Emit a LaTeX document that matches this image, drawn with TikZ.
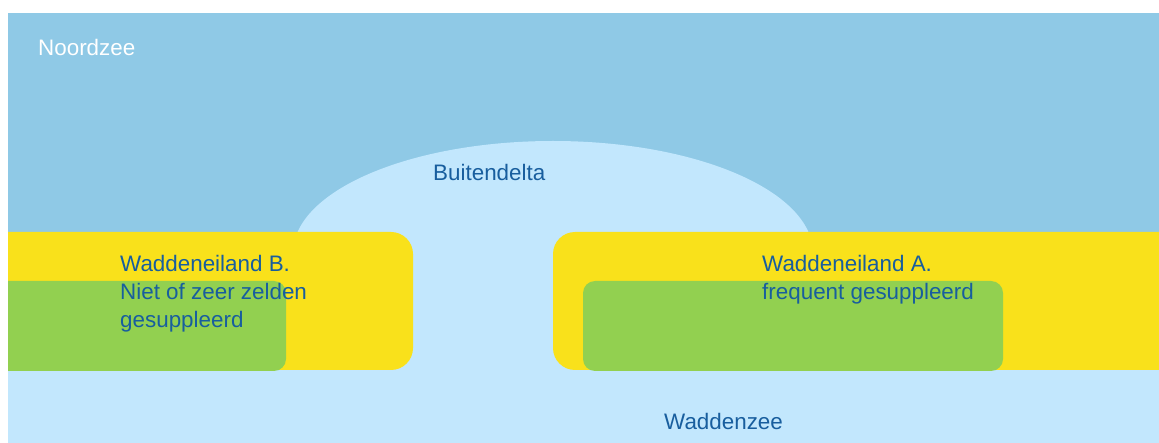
\documentclass[tikz,border=0pt]{standalone}
\usepackage{fontspec}
\setmainfont{Liberation Sans}
\definecolor{northsea}{RGB}{143,201,230}
\definecolor{shallow}{RGB}{194,231,253}
\definecolor{sand}{RGB}{249,225,27}
\definecolor{grass}{RGB}{146,208,80}
\definecolor{labelblue}{RGB}{24,94,158}
\begin{document}
\begin{tikzpicture}[x=1pt,y=-1pt,
  lbl/.style={anchor=base west,inner sep=0pt,text=labelblue,
    font=\fontsize{22.4}{28}\selectfont,align=left},
  sealbl/.style={lbl,text=white}]
\useasboundingbox (0,0) rectangle (1159,443);
\fill[white] (0,0) rectangle (1159,443);
\begin{scope}
  \clip (8,13) rectangle (1159,443);
  % North Sea
  \fill[northsea] (8,13) rectangle (1159,443);
  % ebb-tidal delta and Wadden Sea
  \fill[shallow] (553,253) ellipse [x radius=260, y radius=112];
  \fill[shallow] (8,232) rectangle (1159,443);
  % island B
  \fill[sand,rounded corners=22] (-40,232) rectangle (413,370);
  \fill[grass,rounded corners=12] (-40,281) rectangle (286,371);
  % island A
  \fill[sand,rounded corners=22] (553,232) rectangle (1200,370);
  \fill[grass,rounded corners=12] (583,281) rectangle (1003,371);
\end{scope}
% multi-line labels are anchored at the baseline of their last line
\node[sealbl] (noordzee) at (38,56) {Noordzee};
\node[lbl] (delta) at (433,181) {Buitendelta};
\node[lbl] (eilandB) at (120,328) {Waddeneiland B.\\Niet of zeer zelden\\gesuppleerd};
\node[lbl] (eilandA) at (762,300) {Waddeneiland A.\\frequent gesuppleerd};
\node[lbl] (waddenzee) at (664,429) {Waddenzee};
\end{tikzpicture}
\end{document}
